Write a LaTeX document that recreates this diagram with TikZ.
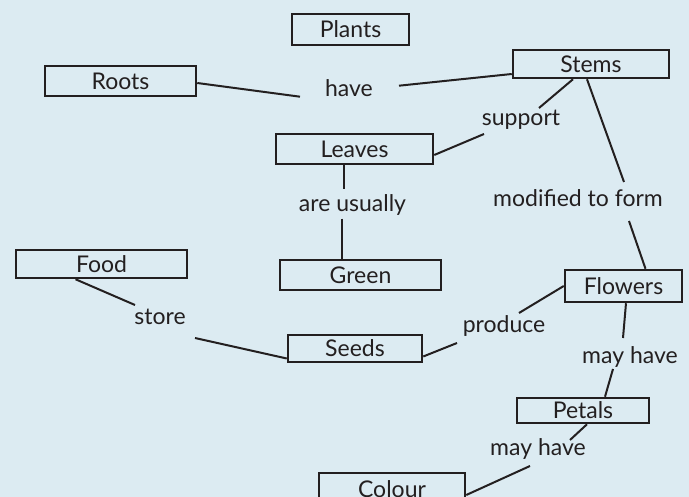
\documentclass[tikz,border=0pt]{standalone}
\usepackage{fontspec}
\setmainfont{Lato}
\usepackage{xcolor}
\definecolor{bgblue}{HTML}{DCEBF2}
\definecolor{ink}{HTML}{231F20}

\begin{document}
\begin{tikzpicture}[x=1pt, y=-1pt, font=\fontsize{23}{27}\selectfont,
  box/.style={draw=ink, line width=2.5pt, inner sep=0pt, text=ink, text height=16.5pt, text depth=0pt},
  word/.style={anchor=base, inner sep=0pt, text=ink},
  link/.style={draw=ink, line width=2pt}]
  \useasboundingbox[fill=bgblue] (0,0) rectangle (689,497);

  \node[box, minimum width=117pt, minimum height=31pt] (plants) at (350.5,29.5) {Plants};
  \node[box, minimum width=151pt, minimum height=30pt] (roots) at (120.5,81) {Roots};
  \node[box, minimum width=156pt, minimum height=28pt] (stems) at (591,64) {Stems};
  \node[box, minimum width=157pt, minimum height=30pt] (leaves) at (354.5,149) {Leaves};
  \node[box, minimum width=161pt, minimum height=30pt] (green) at (360.5,275) {Green};
  \node[box, minimum width=171pt, minimum height=28pt] (food) at (101.5,264) {Food};
  \node[box, minimum width=134pt, minimum height=27pt] (seeds) at (355,348.5) {Seeds};
  \node[box, minimum width=117pt, minimum height=32pt] (flowers) at (623.5,286) {Flowers};
  \node[box, minimum width=132pt, minimum height=25pt] (petals) at (583,410.5) {Petals};
  \node[box, minimum width=146pt, minimum height=32pt] (colour) at (392,489) {Colour};

  \node[word] (have) at (349,96.7) {have};
  \node[word] (support) at (521,126) {support};
  \node[word] (usually) at (352.5,211.7) {are usually};
  \node[word] (modified) at (578,207) {modified to form};
  \node[word] (store) at (160,325) {store};
  \node[word] (produce) at (504,333) {produce};
  \node[word] (mayhave1) at (630,363) {may have};
  \node[word] (mayhave2) at (538,456) {may have};

  \draw[link] ([shift={(0,2)}]roots.east) -- ([shift={(-49,0)}]have.base);
  \draw[link] ([shift={(50,-11)}]have.base) -- ([shift={(0,10)}]stems.west);
  \draw[link] ([shift={(-18,0)}]stems.south) -- ([shift={(18,-18)}]support.base);
  \draw[link] ([shift={(-37,8)}]support.base) -- ([shift={(0,6)}]leaves.east);
  \draw[link] ([shift={(-4,0)}]stems.south) -- ([shift={(46,-25)}]modified.base);
  \draw[link] ([shift={(51,14)}]modified.base) -- ([shift={(22,0)}]flowers.north);
  \draw[link] ([shift={(-11,0)}]leaves.south) -- ([shift={(-9,-23)}]usually.base);
  \draw[link] ([shift={(-11,7)}]usually.base) -- ([shift={(-19,0)}]green.north);
  \draw[link] ([shift={(-26,0)}]food.south) -- ([shift={(-25,-20)}]store.base);
  \draw[link] ([shift={(35,13)}]store.base) -- ([shift={(0,10)}]seeds.west);
  \draw[link] ([shift={(0,8)}]seeds.east) -- ([shift={(-47,10)}]produce.base);
  \draw[link] ([shift={(15,-20)}]produce.base) -- (flowers.west);
  \draw[link] ([shift={(2.5,0)}]flowers.south) -- ([shift={(-7,-25)}]mayhave1.base);
  \draw[link] ([shift={(-17,6)}]mayhave1.base) -- ([shift={(22,0)}]petals.north);
  \draw[link] ([shift={(4,0)}]petals.south) -- ([shift={(32,-16)}]mayhave2.base);
  \draw[link] ([shift={(-8,10)}]mayhave2.base) -- ([shift={(0,6)}]colour.east);
\end{tikzpicture}
\end{document}
